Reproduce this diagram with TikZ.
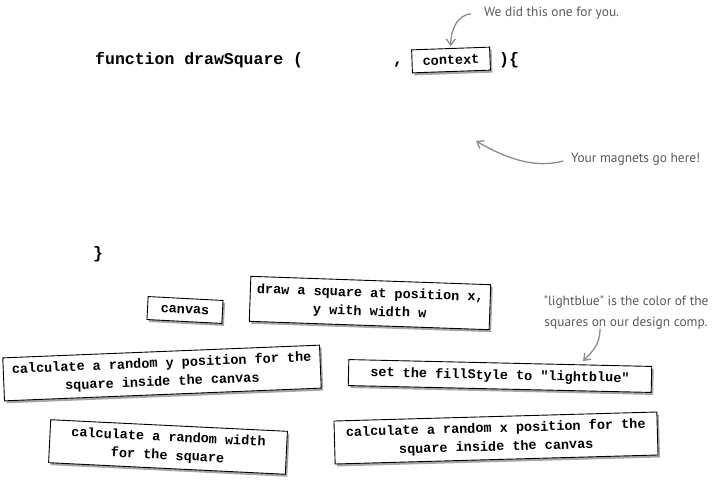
\documentclass[tikz,border=0pt]{standalone}
\usepackage{fontspec}
\setmonofont{Liberation Mono}
\newfontfamily\handfont{PT Sans}
\usepackage{tikz}
\usetikzlibrary{shapes, arrows.meta, positioning, shadows}
\tikzstyle{magnet} = [draw, fill=white, line width=0.9pt, align=center, inner sep=0pt,
  font=\ttfamily\bfseries\fontsize{13.5}{18.5}\selectfont,
  drop shadow={shadow xshift=2pt, shadow yshift=-2.5pt, fill=black, opacity=0.35}]
\tikzstyle{code} = [inner sep=0pt, font=\ttfamily\bfseries\fontsize{16.5}{20}\selectfont]
\tikzstyle{note} = [inner sep=0pt, text=black!65, align=center, font=\handfont\fontsize{13.4}{21}\selectfont]
\tikzstyle{hand} = [draw=black!45, line width=1.3pt, -{Straight Barb[length=6pt, width=9pt]}]

\begin{document}
\begin{tikzpicture}[x=1pt, y=-1pt]
			\useasboundingbox (0, 0) rectangle (716, 485);
			
			\node [code, anchor=base west] (head) at (95, 64) {function drawSquare (};
			\node [code, anchor=base] (comma) at (398, 64) {,};
			\node [magnet, minimum width=78, minimum height=23, rotate=2] (context) at (451, 60) {context};
			\node [code, anchor=base west] (open) at (499, 64) {)\{};
			\node [code, anchor=base west] (close) at (93, 258) {\}};
			
			\node [magnet, minimum width=75, minimum height=23, rotate=-3] (canvas) at (185, 310) {canvas};
			\node [magnet, minimum width=240, minimum height=45, rotate=-2] (drawsq) at (370, 303) {draw a square at position x,\\y with width w};
			\node [magnet, minimum width=317, minimum height=43, rotate=2.3] (ypos) at (162, 373) {calculate a random y position for the\\square inside the canvas};
			\node [magnet, minimum width=303, minimum height=26, rotate=-1.3] (fill) at (500, 376) {set the fillStyle to "lightblue"};
			\node [magnet, minimum width=237, minimum height=43, rotate=-2.8] (width) at (168, 447) {calculate a random width\\for the square};
			\node [magnet, minimum width=323, minimum height=43, rotate=1.6] (xpos) at (496, 438) {calculate a random x position for the\\square inside the canvas};
			
			\node [note, anchor=base west] (did) at (484, 16) {We did this one for you.};
			\node [note, anchor=base west] (magnets) at (571, 162) {Your magnets go here!};
			\node [note] (blue) at (626, 313) {"lightblue" is the color of the\\squares on our design comp.};
			\coordinate (here) at (476, 141);
			\coordinate (bluetip) at (583, 361);
			
			\path [hand, shorten <=13pt, shorten >=2pt] (did.west) .. controls (458, 15) and (451, 28) .. (context.north);
			\path [hand, shorten <=8pt] (magnets.west) .. controls (535, 169) and (505, 158) .. (here);
			\path [hand] ([xshift=-26pt, yshift=1pt]blue.south) .. controls (600, 345) and (592, 352) .. (bluetip);
		\end{tikzpicture}
\end{document}
